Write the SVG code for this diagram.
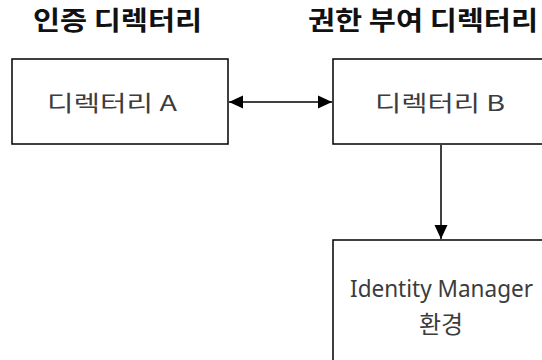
<svg xmlns="http://www.w3.org/2000/svg" width="542" height="360" viewBox="0 0 542 360">
<style>
.box{fill:#fff;stroke:#000;stroke-width:1.5}
.title{font-family:"Noto Sans CJK KR","Noto Sans",sans-serif;font-weight:bold;font-size:26px;fill:#111}
.lbl{font-family:"Noto Sans CJK KR","Noto Sans",sans-serif;font-size:22px;fill:#3c3c3c}
.en{font-family:"Noto Sans","Noto Sans CJK KR",sans-serif;font-size:23px;fill:#3c3c3c}
.conn{stroke:#000;stroke-width:1.5;fill:none}
</style>
<defs>
<marker id="ah" viewBox="0 0 14 14" refX="14" refY="7" markerWidth="14" markerHeight="14" markerUnits="userSpaceOnUse" orient="auto-start-reverse">
<path d="M0,0.5 L14,7 L0,13.5 z" fill="#000"/>
</marker>
</defs>
<text class="title" x="33" y="30" textLength="169" lengthAdjust="spacingAndGlyphs">인증 디렉터리</text>
<text class="title" x="308" y="30" textLength="230" lengthAdjust="spacingAndGlyphs">권한 부여 디렉터리</text>
<g id="nodeA">
<rect class="box" x="12" y="59" width="216" height="85"/>
<text class="lbl" x="47" y="111" textLength="130" lengthAdjust="spacingAndGlyphs">디렉터리 A</text>
</g>
<g id="nodeB">
<rect class="box" x="333" y="59" width="220" height="85"/>
<text class="lbl" x="375" y="111" textLength="130" lengthAdjust="spacingAndGlyphs">디렉터리 B</text>
</g>
<g id="nodeC">
<rect class="box" x="333" y="240" width="220" height="130"/>
<text class="en" x="350" y="297" textLength="183" lengthAdjust="spacingAndGlyphs">Identity Manager</text>
<text class="lbl" x="441" y="333" text-anchor="middle" style="font-size:24px">환경</text>
</g>
<g id="connectors">
<line class="conn" x1="229" y1="102" x2="332" y2="102" marker-start="url(#ah)" marker-end="url(#ah)"/>
<line class="conn" x1="441" y1="145" x2="441" y2="239" marker-end="url(#ah)"/>
</g>
</svg>
